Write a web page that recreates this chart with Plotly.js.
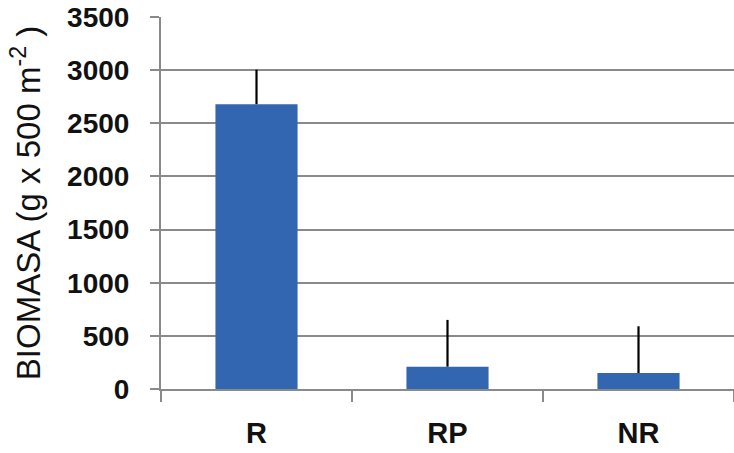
<!DOCTYPE html>
<html>
<head>
<meta charset="utf-8">
<script src="https://cdn.plot.ly/plotly-3.0.1.min.js"></script>
<style>
  html, body { margin: 0; padding: 0; background: #ffffff; }
  #chart { width: 734px; height: 453px; }
</style>
</head>
<body>
<div id="chart"></div>
<script>
// Biomass per treatment (g x 500 m^-2), with the upper error
const categories = ["R", "RP", "NR"];
const biomass = [2680, 210, 150];
const errorUp = [325, 440, 440];
const yTicks = [0, 500, 1000, 1500, 2000, 2500, 3000, 3500];

const gridGray = "#8a8a8a";
const fontFamily = "Liberation Sans, Arial, sans-serif";

const trace = {
  type: "bar",
  x: categories,
  y: biomass,
  marker: { color: "#3366b1", line: { width: 0 } },
  error_y: {
    type: "data",
    symmetric: false,
    array: errorUp,
    arrayminus: [0, 0, 0],
    color: "#000000",
    thickness: 2.2,
    width: 0
  },
  hoverinfo: "skip"
};

const layout = {
  width: 734,
  height: 453,
  margin: { l: 161, r: 0, t: 17, b: 64, pad: 0 },
  paper_bgcolor: "#ffffff",
  plot_bgcolor: "#ffffff",
  bargap: 0.57,
  showlegend: false,
  font: { family: fontFamily, color: "#111111" },
  xaxis: {
    type: "category",
    range: [-0.5, 2.5],
    automargin: false,
    showgrid: false,
    showline: true,
    linecolor: gridGray,
    linewidth: 2,
    ticks: "outside",
    tickson: "boundaries",
    ticklen: 11,
    tickwidth: 2,
    tickcolor: gridGray,
    ticklabelstandoff: 17,
    tickfont: { family: fontFamily, size: 29, weight: "bold", color: "#111111" },
    zeroline: false,
    fixedrange: true
  },
  yaxis: {
    range: [0, 3500],
    automargin: false,
    tickvals: yTicks,
    ticktext: yTicks.map(String),
    showgrid: true,
    gridcolor: gridGray,
    gridwidth: 2,
    showline: true,
    linecolor: gridGray,
    linewidth: 2,
    ticks: "outside",
    ticklen: 9,
    tickwidth: 2,
    tickcolor: gridGray,
    ticklabelstandoff: 15,
    tickfont: { family: fontFamily, size: 28, weight: "bold", color: "#111111" },
    zeroline: false,
    fixedrange: true,
    title: {
      text: "BIOMASA (g x 500 m<sup>-2</sup> )",
      font: { family: fontFamily, size: 33, color: "#111111" },
      standoff: 17
    }
  }
};

Plotly.newPlot("chart", [trace], layout, { displayModeBar: false, staticPlot: true });
</script>
</body>
</html>
